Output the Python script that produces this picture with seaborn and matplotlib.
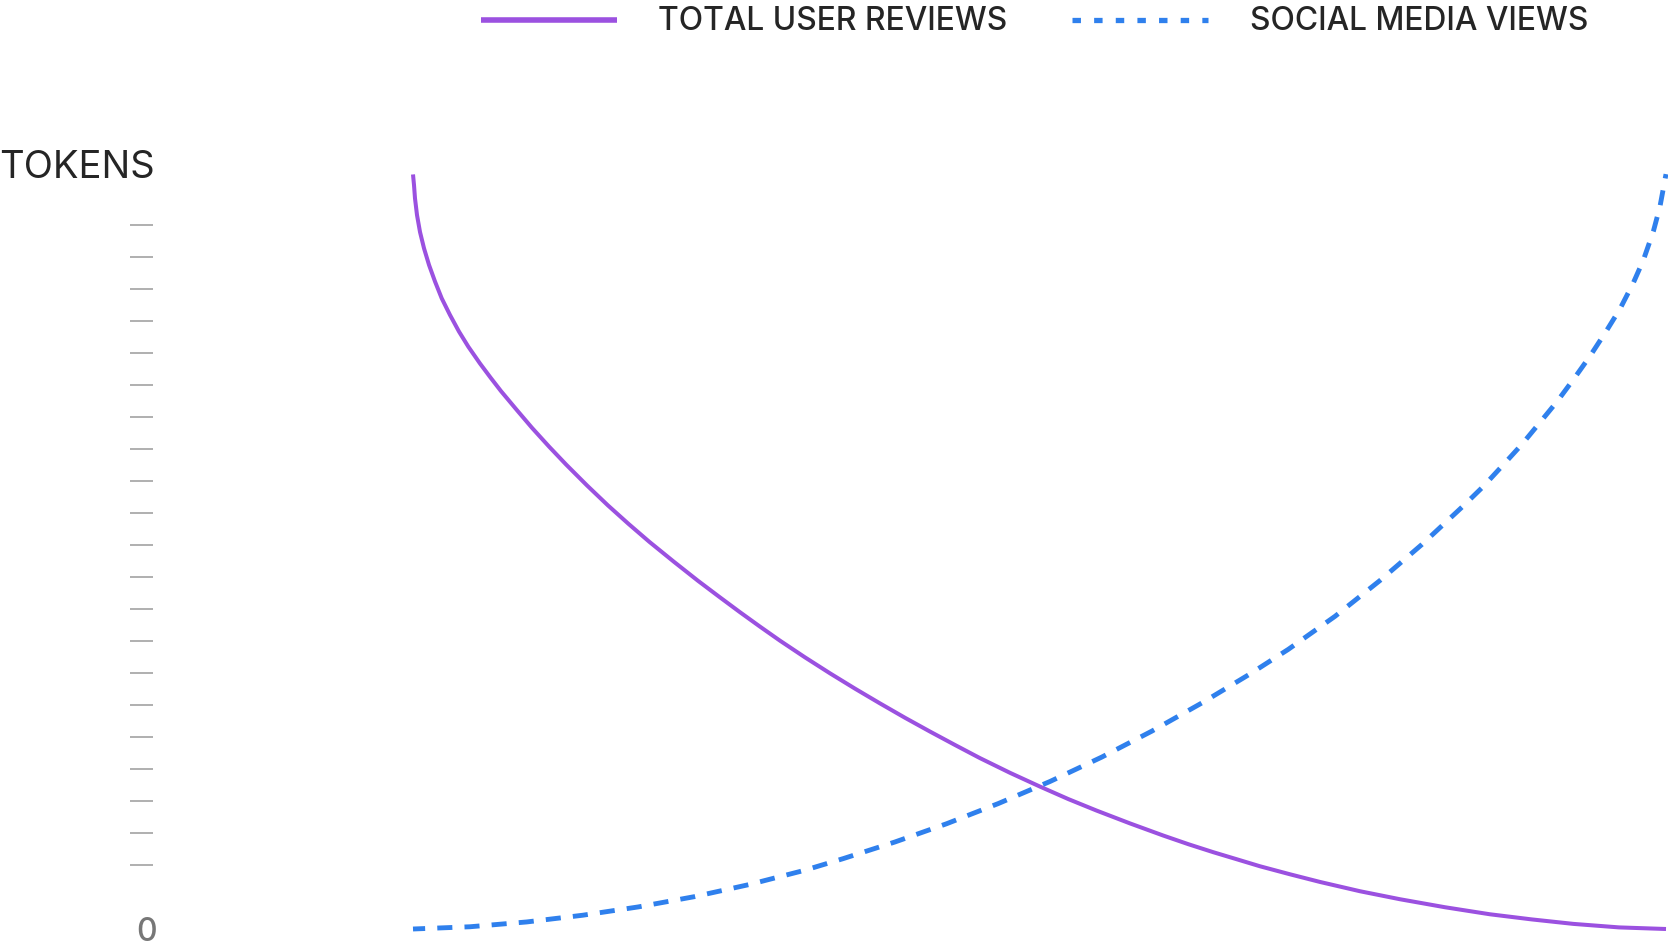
import matplotlib
matplotlib.use("Agg")
import matplotlib.pyplot as plt
from matplotlib.lines import Line2D
import pandas as pd
import seaborn as sns

# ---- data ----
reviews_x = [0.0, 0.08, 0.16, 0.32, 0.56, 0.88, 1.28, 1.76, 2.29, 2.95, 3.67, 4.41,
             5.35, 6.19, 7.02, 8.26, 9.50, 10.87, 12.23, 13.89, 15.55, 17.20, 18.86,
             20.81, 22.75, 24.41, 26.06, 27.69, 29.29, 31.28, 33.28, 35.28, 37.27, 39.27,
             41.26, 43.26, 45.25, 47.65, 50.04, 52.30, 54.56, 57.22, 59.88, 61.88, 63.87,
             65.74, 67.60, 69.99, 72.39, 75.58, 78.77, 82.36, 85.95, 89.28, 92.60, 96.25,
             100.0]
reviews_y = [23.58, 23.25, 22.83, 22.31, 21.78, 21.27, 20.75, 20.23, 19.71, 19.19, 18.67, 18.20,
             17.67, 17.23, 16.81, 16.23, 15.66, 15.07, 14.51, 13.86, 13.24, 12.66, 12.10,
             11.48, 10.88, 10.39, 9.91, 9.45, 9.01, 8.49, 7.99, 7.51, 7.05, 6.60,
             6.17, 5.75, 5.34, 4.88, 4.45, 4.06, 3.70, 3.30, 2.92, 2.65, 2.40,
             2.18, 1.96, 1.71, 1.47, 1.18, 0.93, 0.68, 0.46, 0.30, 0.16, 0.05,
             0.0]

views_x = [0.0, 4.55, 9.07, 13.54, 17.98, 22.45, 26.84, 31.21, 34.34, 38.47, 42.59, 46.71,
           50.84, 54.96, 58.95, 62.94, 66.80, 69.86, 73.58, 77.17, 80.50, 83.82, 85.42,
           87.02, 88.51, 89.94, 91.30, 92.66, 93.93, 95.21, 96.33, 97.39, 98.19, 98.99,
           99.52, 99.92, 100.0]
views_y = [0.0, 0.07, 0.22, 0.43, 0.69, 1.01, 1.39, 1.83, 2.20, 2.72, 3.29, 3.92,
           4.61, 5.37, 6.18, 7.06, 7.97, 8.74, 9.77, 10.89, 12.01, 13.22, 13.83,
           14.51, 15.15, 15.83, 16.48, 17.20, 17.90, 18.67, 19.38, 20.19, 20.90, 21.80,
           22.58, 23.42, 23.59]

series_names = ["TOTAL USER REVIEWS", "SOCIAL MEDIA VIEWS"]
y_title = "TOKENS"
minor_ticks = list(range(2, 23))
major_ticks = [0]
major_labels = ["0"]

PURPLE = "#9B51E0"
BLUE = "#2F80ED"
TEXT = "#252525"

sns.set_theme(style="white")
plt.rcParams["font.family"] = ["Inter", "DejaVu Sans"]

W, H = 1668, 946
fig = plt.figure(figsize=(W / 100, H / 100), dpi=100)
fig.patch.set_facecolor("white")

def fx(px):
    return px / W

def fy(py):
    return 1 - py / H

left, right, top, bottom = 413, 1666, 174, 929
ax = fig.add_axes([fx(left), fy(bottom), (right - left) / W, (bottom - top) / H])
ax.set_facecolor("white")

df_r = pd.DataFrame({"x": reviews_x, "y": reviews_y})
df_v = pd.DataFrame({"x": views_x, "y": views_y})

sns.lineplot(data=df_r, x="x", y="y", ax=ax, color=PURPLE, linewidth=2.9,
             clip_on=False, legend=False, estimator=None, sort=False)
sns.lineplot(data=df_v, x="x", y="y", ax=ax, color=BLUE, linewidth=3.5,
             linestyle=(0.6, (3.1, 2.5)), clip_on=False, legend=False,
             estimator=None, sort=False)
for ln in ax.lines:
    ln.set_solid_capstyle("butt")
    ln.set_dash_capstyle("butt")
    ln.set_solid_joinstyle("round")

ax.set_xlim(0, 100)
ax.set_ylim(0, (bottom - top) / 32.0)
ax.set_xlabel("")
ax.set_ylabel("")
ax.set_xticks([])
for s in ["top", "right", "bottom", "left"]:
    ax.spines[s].set_visible(False)
ax.spines["left"].set_position(("outward", (left - 153) * 0.72))

ax.set_yticks(major_ticks)
ax.set_yticklabels(major_labels)
ax.set_yticks(minor_ticks, minor=True)
ax.tick_params(axis="y", which="major", length=0, pad=-2.5, labelsize=23,
               labelcolor="#777777", left=True)
ax.tick_params(axis="y", which="minor", length=23 * 0.72, width=1.1,
               color="#9a9a9a", direction="out", left=True)
for lab in ax.get_yticklabels():
    lab.set_fontweight("medium")

# y title
fig.text(fx(-1), fy(168), y_title, ha="left", va="center", fontsize=27.5,
         color=TEXT, fontweight="normal")

# legend (drawn manually to match layout)
ly = fy(20)
fig.add_artist(Line2D([fx(481), fx(617)], [ly, ly], color=PURPLE, linewidth=4.0,
                      solid_capstyle="butt", transform=fig.transFigure))
fig.add_artist(Line2D([fx(1072), fx(1208)], [ly, ly], color=BLUE, linewidth=3.8,
                      linestyle=(0, (1.6, 2.5)), dash_capstyle="butt",
                      transform=fig.transFigure))
fig.text(fx(658), fy(21), series_names[0], ha="left", va="center", fontsize=22.9,
         color=TEXT, fontweight="medium")
fig.text(fx(1250), fy(21), series_names[1], ha="left", va="center", fontsize=22.9,
         color=TEXT, fontweight="medium")

fig.savefig("out.png", dpi=100, facecolor="white")
